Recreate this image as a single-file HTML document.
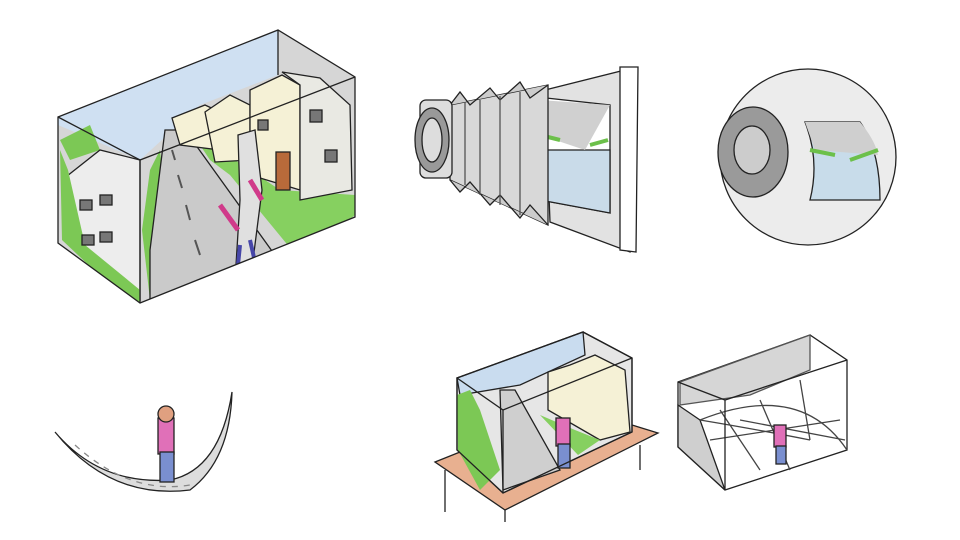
<!DOCTYPE html>
<html><head><style>html,body{margin:0;padding:0;background:#fff}svg{display:block}</style></head>
<body>
<svg width="960" height="540" viewBox="0 0 960 540" xmlns="http://www.w3.org/2000/svg" fill="none" stroke="#222" stroke-width="1.3">
<defs><clipPath id="c1"><polygon points="58,117 278,30 355,77 355,217 140,303 58,243"/></clipPath></defs>
<!-- Box 1 -->
<g clip-path="url(#c1)">
<polygon points="58,117 278,30 355,77 355,217 140,303 58,243" fill="#d6d6d6" stroke="none"/>
<polygon points="58,117 278,30 278,75 200,105 140,160 58,125" fill="#cfe0f2" stroke="none"/>
<polygon points="60,140 90,125 100,150 70,160" fill="#7cc855" stroke="none"/>
<polygon points="62,180 100,150 140,160 140,300 115,285 70,245" fill="#ededed"/>
<polygon points="60,150 62,240 115,290 140,302 140,290 85,245 68,170" fill="#7cc855" stroke="none"/>
<polygon points="142,230 150,170 160,150 165,200 150,300" fill="#7cc855" stroke="none"/>
<polygon points="165,130 185,130 300,290 150,302 150,250" fill="#cacaca"/>
<path d="M172,150 L175,160 M178,175 L182,188 M186,205 L190,220 M195,240 L200,255" stroke="#555" stroke-width="2"/>
<polygon points="190,130 210,160 230,175 300,260 355,215 355,195 280,190" fill="#86d060" stroke="none"/>
<polygon points="172,118 205,105 220,112 220,150 180,145" fill="#f5f1d6"/>
<polygon points="205,112 230,95 250,105 250,160 215,162" fill="#f5f1d6"/>
<polygon points="250,90 282,75 300,85 300,190 250,175" fill="#f5f1d6"/>
<polygon points="282,72 320,78 350,105 352,190 300,200 300,85" fill="#e9e9e3"/>
<rect x="276" y="152" width="14" height="38" fill="#b86a3a"/>
<rect x="258" y="120" width="10" height="10" fill="#777"/><rect x="310" y="110" width="12" height="12" fill="#777"/><rect x="325" y="150" width="12" height="12" fill="#777"/><rect x="80" y="200" width="12" height="10" fill="#777"/><rect x="100" y="195" width="12" height="10" fill="#777"/><rect x="82" y="235" width="12" height="10" fill="#777"/><rect x="100" y="232" width="12" height="10" fill="#777"/>
<polygon points="238,135 255,130 262,190 252,268 236,265 240,200" fill="#e0e0e0"/>
<path d="M220,205 L238,230 M250,180 L262,200" stroke="#d03a8a" stroke-width="5"/>
<path d="M240,245 L238,265 M250,240 L255,262" stroke="#4646a8" stroke-width="4"/>
</g>
<polygon points="58,117 278,30 355,77 355,217 140,303 58,243" fill="none"/>
<path d="M58,117 L140,160 L355,77 M140,160 L140,303 M278,30 L278,75"/>
<!-- Camera -->
<polygon points="545,90 633,68 630,252 550,222" fill="#e2e2e2"/>
<polygon points="620,67 638,67 636,252 620,250" fill="#fff"/>
<polygon points="537,97 610,105 610,213 540,200" fill="#fff"/>
<polygon points="540,150 610,150 610,213 540,200" fill="#c9dbe9"/>
<polygon points="540,100 610,105 585,150 540,135" fill="#d0d0d0" stroke="none"/>
<path d="M540,135 L560,140 M590,145 L608,140" stroke="#6cc04a" stroke-width="4"/>
<polygon points="450,105 548,85 548,225 450,180" fill="#d8d8d8"/>
<path d="M450,105 L460,92 L470,105 L490,88 L500,100 L520,82 L530,98 L548,85 M450,180 L460,192 L470,182 L490,205 L500,195 L520,218 L530,205 L548,225" fill="#ccc"/>
<path d="M465,102 V185 M480,100 V195 M500,96 V205 M520,92 V215" stroke="#555"/>
<rect x="420" y="100" width="32" height="78" rx="6" fill="#ddd"/>
<ellipse cx="432" cy="140" rx="17" ry="32" fill="#999"/>
<ellipse cx="432" cy="140" rx="10" ry="22" fill="#ddd"/>
<!-- Eye -->
<circle cx="808" cy="157" r="88" fill="#ececec"/>
<path d="M805,122 L860,122 Q880,150 880,200 L810,200 Q820,160 805,122Z" fill="#c8dcea"/>
<path d="M805,122 L860,122 Q875,140 878,155 L815,150Z" fill="#cfcfcf" stroke="none"/>
<path d="M810,150 L835,155 M850,160 L878,150" stroke="#6cc04a" stroke-width="4"/>
<ellipse cx="753" cy="152" rx="35" ry="45" fill="#9a9a9a"/>
<ellipse cx="752" cy="150" rx="18" ry="24" fill="#ccc"/>
<!-- Crescent -->
<path d="M55,432 Q110,500 190,490 Q230,460 232,392 Q220,470 170,480 Q100,485 55,432Z" fill="#ddd"/>
<path d="M75,445 Q130,495 190,485" stroke="#888" stroke-dasharray="6 6"/>
<rect x="158" y="418" width="16" height="36" fill="#e070b8"/>
<rect x="160" y="452" width="14" height="30" fill="#7a8fd0"/>
<circle cx="166" cy="414" r="8" fill="#e0a080"/>
<!-- Table scene -->
<polygon points="435,462 470,448 632,425 658,433 505,510" fill="#e8b090"/>
<path d="M445,470 V512 M505,510 V522 M640,445 V470"/>
<polygon points="457,378 583,332 632,358 632,432 503,493 457,450" fill="#e6e6e6"/>
<polygon points="457,378 583,332 585,355 520,385 460,395" fill="#c9dcef"/>
<polygon points="548,372 570,365 595,355 625,370 630,432 600,440 548,410" fill="#f5f1d6"/>
<polygon points="500,390 515,390 560,470 503,490" fill="#cfcfcf"/>
<polygon points="540,415 575,430 600,440 578,455" fill="#86d060" stroke="none"/>
<polygon points="457,395 470,390 480,410 500,470 480,490 458,450" fill="#7cc855" stroke="none"/>
<rect x="556" y="418" width="14" height="28" fill="#e070b8"/>
<rect x="558" y="444" width="12" height="24" fill="#7a8fd0"/>
<path d="M457,378 L583,332 L632,358 L632,432 L503,493 L457,450Z M457,378 L503,410 L632,358 M503,410 V493"/>
<!-- Right box -->
<polygon points="678,382 810,335 847,360 847,450 725,490 678,447" fill="#fff"/>
<polygon points="680,382 810,335 810,370 750,395 680,405" fill="#d6d6d6" stroke="#555"/>
<polygon points="678,405 700,420 725,490 678,447" fill="#cfcfcf"/>
<path d="M700,420 Q760,430 810,440 M720,410 L760,470 M760,400 L790,470 M800,380 L810,440 M740,420 L845,440 M710,440 L840,420 M700,420 Q800,380 847,450" stroke="#444"/>
<path d="M678,382 L725,400 L847,360 M725,400 V490"/>
<rect x="774" y="425" width="12" height="22" fill="#e070b8"/>
<rect x="776" y="446" width="10" height="18" fill="#7a8fd0"/>
</svg>
</body></html>
